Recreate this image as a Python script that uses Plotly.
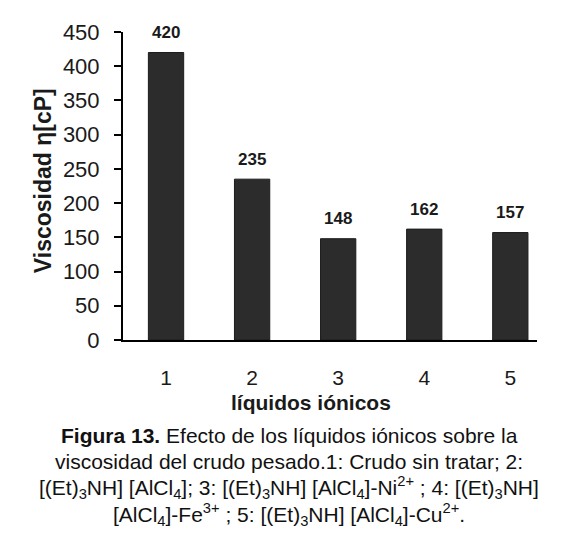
import plotly.graph_objects as go

categories = [1, 2, 3, 4, 5]
viscosity = [420, 235, 148, 162, 157]
y_ticks = [0, 50, 100, 150, 200, 250, 300, 350, 400, 450]

caption_lines = [
    "<b>Figura 13.</b> Efecto de los líquidos iónicos sobre la",
    "viscosidad del crudo pesado.1: Crudo sin tratar; 2:",
    "[(Et)<sub>3</sub>NH] [AlCl<sub>4</sub>]; 3: [(Et)<sub>3</sub>NH] [AlCl<sub>4</sub>]-Ni<sup>2+</sup> ; 4: [(Et)<sub>3</sub>NH]",
    "[AlCl<sub>4</sub>]-Fe<sup>3+</sup> ; 5: [(Et)<sub>3</sub>NH] [AlCl<sub>4</sub>]-Cu<sup>2+</sup>.",
]
caption_y = [-0.31, -0.394, -0.479, -0.567]

font_family = "Liberation Sans, Arial, sans-serif"

fig = go.Figure()
fig.add_trace(go.Bar(
    x=categories, y=viscosity, width=0.41,
    marker=dict(color="#2c2c2c", line=dict(color="#1c1c1c", width=1)),
    showlegend=False, hoverinfo="skip",
))

for c, v in zip(categories, viscosity):
    fig.add_annotation(x=c, y=v, text="<b>%d</b>" % v, showarrow=False, yshift=20,
                       font=dict(family=font_family, size=17, color="#1a1a1a"),
                       xref="x", yref="y")

fig.add_annotation(x=0.454, y=-0.203, xref="paper", yref="paper",
                   text="<b>líquidos iónicos</b>", showarrow=False,
                   font=dict(family=font_family, size=21, color="#1a1a1a"),
                   xanchor="center", yanchor="middle")
fig.add_annotation(x=-0.193, y=0.516, xref="paper", yref="paper",
                   text="<b>Viscosidad η[cP]</b>", showarrow=False, textangle=-90,
                   font=dict(family=font_family, size=23, color="#1a1a1a"),
                   xanchor="center", yanchor="middle")

for line, yy in zip(caption_lines, caption_y):
    fig.add_annotation(x=0.401, y=yy, xref="paper", yref="paper",
                       text=line, showarrow=False, align="center",
                       font=dict(family=font_family, size=21, color="#111111"),
                       xanchor="center", yanchor="middle")

fig.update_layout(
    width=580, height=545,
    margin=dict(l=115, r=51, t=22, b=213),
    paper_bgcolor="white", plot_bgcolor="white",
    xaxis=dict(range=[0.5, 5.31], tickvals=categories, ticktext=[str(c) for c in categories],
               showline=True, linecolor="black", linewidth=2, ticks="",
               showgrid=False, zeroline=False, ticklabelstandoff=18,
               tickfont=dict(family=font_family, size=21, color="#1a1a1a")),
    yaxis=dict(range=[0, 450], tickvals=y_ticks, showline=True, linecolor="black",
               linewidth=2, ticks="outside", ticklen=7, tickwidth=2, tickcolor="black",
               showgrid=False, zeroline=False, ticklabelstandoff=10,
               tickfont=dict(family=font_family, size=22, color="#1a1a1a")),
)

fig.write_html("out.html")
